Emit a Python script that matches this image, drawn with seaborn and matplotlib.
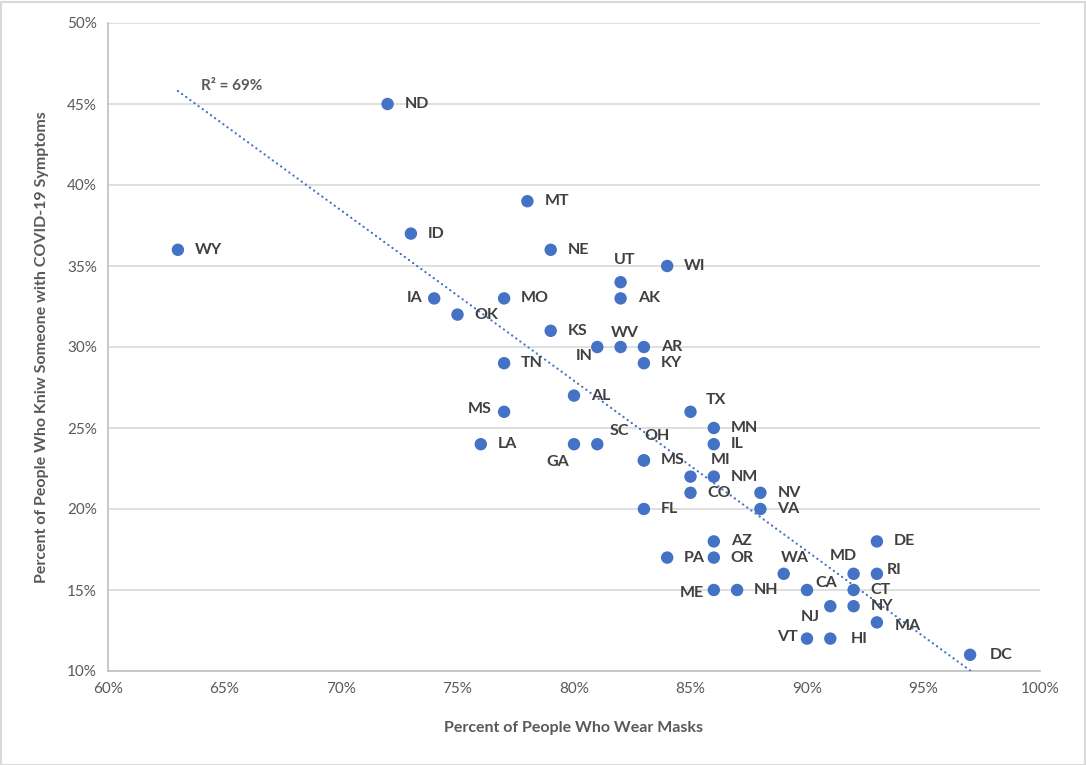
import matplotlib
matplotlib.use("Agg")
import matplotlib.pyplot as plt
import seaborn as sns
import pandas as pd
import numpy as np
from matplotlib.ticker import FuncFormatter
from matplotlib.patches import Rectangle

states = ["ND", "WY", "MT", "ID", "NE", "UT", "WI", "AK", "IA", "MO",
          "OK", "KS", "IN", "WV", "AR", "TN", "KY", "AL", "MS", "TX",
          "MN", "IL", "LA", "GA", "SC", "OH", "MS", "MI", "NM", "CO",
          "NV", "VA", "FL", "AZ", "DE", "PA", "OR", "WA", "MD", "RI",
          "ME", "NH", "CA", "CT", "NJ", "NY", "MA", "VT", "HI", "DC"]
mask_pct = [72, 63, 78, 73, 79, 82, 84, 82, 74, 77,
            75, 79, 81, 82, 83, 77, 83, 80, 77, 85,
            86, 86, 76, 80, 81, 83, 83, 85, 86, 85,
            88, 88, 83, 86, 93, 84, 86, 89, 92, 93,
            86, 87, 90, 92, 91, 92, 93, 90, 91, 97]
know_pct = [45, 36, 39, 37, 36, 34, 35, 33, 33, 33,
            32, 31, 30, 30, 30, 29, 29, 27, 26, 26,
            25, 24, 24, 24, 24, 23, 23, 22, 22, 21,
            21, 20, 20, 18, 18, 17, 17, 16, 16, 16,
            15, 15, 15, 15, 14, 14, 13, 12, 12, 11]
x_ticks = [60, 65, 70, 75, 80, 85, 90, 95, 100]
y_ticks = [10, 15, 20, 25, 30, 35, 40, 45, 50]
r2_label = "R² = 69%"

# label offsets in pixels (dx right, dy up); default right of the point
default_off = (17, 0)
label_off = {
    5: (-7, 22),    # UT
    8: (-27, 0),    # IA
    13: (-10, 14),  # WV
    12: (-22, -9),  # IN
    18: (-36, 3),   # MS
    19: (15, 12),   # TX
    24: (12, 13),   # SC
    23: (-28, -18), # GA
    25: (0, 24),    # OH
    27: (20, 17),   # MI
    40: (-34, -3),  # ME
    37: (-3, 16),   # WA
    38: (-24, 18),  # MD
    39: (10, 4),    # RI
    42: (8, 7),     # CA
    44: (-30, -11), # NJ
    46: (18, -4),   # MA
    47: (-30, 2),   # VT
    48: (20, 0),    # HI
    49: (20, 0),    # DC
}

df = pd.DataFrame({"state": states, "mask": mask_pct, "know": know_pct})

sns.set_style("white")
plt.rcParams["font.family"] = ["Lato", "DejaVu Sans"]

W, H = 1086, 765
fig = plt.figure(figsize=(W / 100, H / 100), dpi=100)
ax = fig.add_axes([108 / W, 1 - 671 / H, (1040 - 108) / W, (671 - 23) / H])

blue = "#4472C4"
grid_c = "#D9D9D9"
text_c = "#404040"
tick_c = "#595959"

sns.scatterplot(data=df, x="mask", y="know", ax=ax, color=blue, s=80,
                edgecolor="none", zorder=4)
sns.regplot(data=df, x="mask", y="know", ax=ax, scatter=False, ci=None,
            truncate=True,
            line_kws=dict(color=blue, lw=1.6, linestyle=(0, (0.1, 2.2)),
                          dash_capstyle="round", zorder=3))

ax.set_xlim(60, 100)
ax.set_ylim(10, 50)
ax.set_xticks(x_ticks)
ax.set_yticks(y_ticks)
ax.xaxis.set_major_formatter(FuncFormatter(lambda v, p: f"{v:.0f}%"))
ax.yaxis.set_major_formatter(FuncFormatter(lambda v, p: f"{v:.0f}%"))
ax.tick_params(axis="both", length=0, labelsize=11, colors=tick_c, pad=8)
for lab in ax.get_xticklabels() + ax.get_yticklabels():
    lab.set_color(tick_c)
ax.yaxis.grid(True, color=grid_c, lw=1.2)
ax.xaxis.grid(False)
ax.set_axisbelow(True)
for side in ["top", "right"]:
    ax.spines[side].set_visible(False)
for side in ["left", "bottom"]:
    ax.spines[side].set_color("#BFBFBF")
    ax.spines[side].set_linewidth(1.2)

px2pt = 72 / 100
for i, (s, xv, yv) in enumerate(zip(states, mask_pct, know_pct)):
    dx, dy = label_off.get(i, default_off)
    ax.annotate(s, (xv, yv), xytext=(dx * px2pt, dy * px2pt),
                textcoords="offset points", ha="left", va="center",
                fontsize=11.5, fontweight="bold", color=text_c, zorder=5)

ax.text(64.0, 46.1, r2_label, ha="left", va="center", fontsize=11,
        fontweight="bold", color=tick_c)

ax.set_xlabel("Percent of People Who Wear Masks", fontsize=11.5,
              fontweight="bold", color=tick_c, labelpad=18)
ax.set_ylabel("Percent of People Who Kniw Someone with COVID-19 Symptoms",
              fontsize=11.5, fontweight="bold", color=tick_c, labelpad=13)

fig.patches.append(Rectangle((0.5 / W, 0.5 / H), 1 - 2 / W, 1 - 2 / H,
                             transform=fig.transFigure, fill=False,
                             edgecolor=grid_c, lw=1.5))

fig.savefig("out.png", dpi=100)
